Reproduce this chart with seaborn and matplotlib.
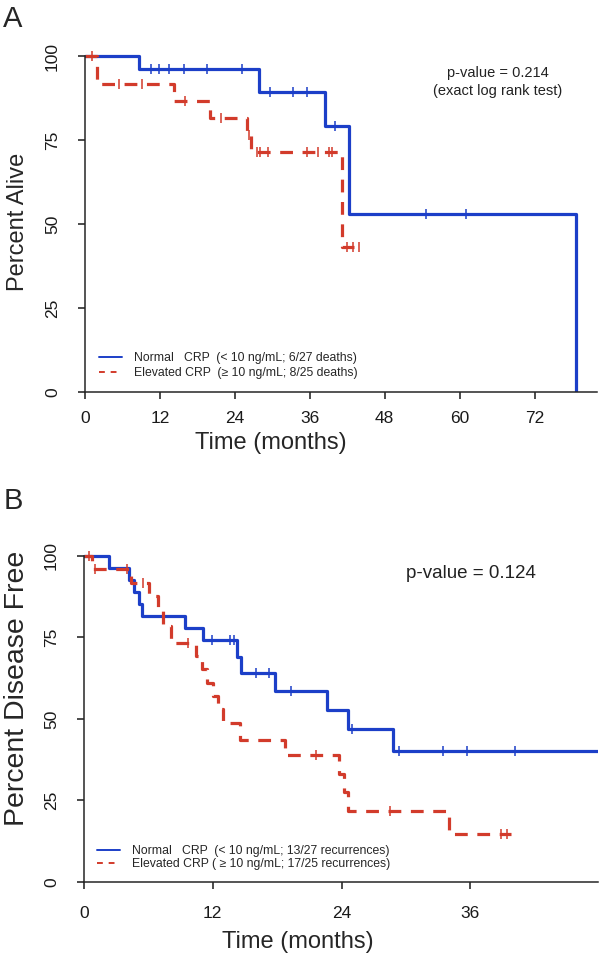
import numpy as np
import pandas as pd
import matplotlib
matplotlib.use("Agg")
import matplotlib.pyplot as plt
from matplotlib.lines import Line2D
import seaborn as sns

# ---------------- data ----------------
# Panel A: overall survival (Kaplan-Meier), months / percent alive
a_norm_time = [0, 8.7, 27.9, 38.4, 42.3, 78.6]
a_norm_surv = [100, 96.3, 89.2, 79.2, 53.0, 0]
a_norm_cens = [10.6, 11.9, 13.4, 15.9, 19.5, 25.2, 29.7, 33.3, 35.6, 40.1, 54.6, 61.0]

a_elev_time = [0, 1.9, 14.2, 20.0, 25.9, 26.6, 41.1, 44.6]
a_elev_surv = [100, 91.6, 86.7, 81.7, 76.5, 71.5, 43.2, 43.2]
a_elev_cens = [1.1, 5.5, 9.1, 16.0, 21.8, 26.2, 27.5, 28.1, 29.3, 35.5, 37.3,
               39.1, 39.5, 41.9, 42.9, 43.9]

# Panel B: disease-free survival
b_norm_time = [0, 2.3, 4.2, 4.7, 5.1, 5.4, 9.4, 11.1, 14.3, 14.6, 17.8, 22.6,
               24.6, 28.8, 47.9]
b_norm_surv = [100, 96.3, 92.6, 88.9, 85.2, 81.5, 77.8, 74.1, 69.0, 64.2, 58.6,
               52.8, 46.9, 40.2, 40.2]
b_norm_cens = [11.9, 13.6, 14.0, 16.0, 17.2, 19.3, 25.0, 29.4, 33.5, 35.7, 40.2]

b_elev_time = [0, 0.7, 4.4, 6.1, 6.9, 7.4, 8.1, 10.4, 11.0, 11.5, 12.0, 12.5,
               13.0, 14.5, 18.7, 23.8, 24.2, 24.6, 34.0, 39.8]
b_elev_surv = [100, 96.0, 91.8, 87.6, 83.4, 78.4, 73.4, 69.3, 65.2, 61.1, 57.0,
               52.9, 48.8, 43.6, 39.0, 33.2, 27.5, 21.8, 14.6, 14.6]
b_elev_cens = [0.5, 1.0, 4.0, 5.5, 9.7, 21.6, 28.5, 38.9, 39.4]

a_xticks = [0, 12, 24, 36, 48, 60, 72]
b_xticks = [0, 12, 24, 36]
yticks = [0, 25, 50, 75, 100]

a_labels = ["Normal   CRP  (< 10 ng/mL; 6/27 deaths)",
            "Elevated CRP  (\u2265 10 ng/mL; 8/25 deaths)"]
b_labels = ["Normal   CRP  (< 10 ng/mL; 13/27 recurrences)",
            "Elevated CRP ( \u2265 10 ng/mL; 17/25 recurrences)"]

BLUE = "#1c3fc8"
RED = "#d23b2b"

sns.set_style("ticks")
plt.rcParams["font.family"] = ["Liberation Sans", "DejaVu Sans"]
plt.rcParams["axes.linewidth"] = 1.1

fig = plt.figure(figsize=(6, 9.58), dpi=100)
W, H = 600, 958


def level_at(times, surv, t):
    idx = np.searchsorted(np.asarray(times), np.asarray(t), side="right") - 1
    return np.asarray(surv)[idx]


def km_panel(ax, ntime, nsurv, ncens, etime, esurv, ecens, xpad):
    sns.lineplot(x=ntime, y=nsurv, drawstyle="steps-post", color=BLUE, lw=2.3,
                 estimator=None, sort=False, ax=ax, legend=False)
    sns.lineplot(x=etime, y=esurv, drawstyle="steps-post", color=RED, lw=2.3,
                 linestyle=(0, (4, 3.0)), estimator=None, sort=False, ax=ax,
                 legend=False)
    sns.scatterplot(x=ncens, y=level_at(ntime, nsurv, ncens), marker="|", s=60,
                    linewidth=1.1, color=BLUE, ax=ax, legend=False, zorder=3)
    sns.scatterplot(x=ecens, y=level_at(etime, esurv, ecens), marker="|", s=60,
                    linewidth=1.1, color=RED, ax=ax, legend=False, zorder=3)
    sns.despine(ax=ax)
    ax.spines["left"].set_bounds(0, 100)
    ax.set_ylim(0, 103)
    ax.set_yticks(yticks)
    ax.set_yticklabels([str(v) for v in yticks], rotation=90, va="center")
    ax.tick_params(direction="out", length=5, width=1.1, labelsize=12.5,
                   colors="#1a1a1a")
    ax.tick_params(axis="x", pad=xpad)
    ax.tick_params(axis="y", pad=13)


# ---------- Panel A ----------
axA = fig.add_axes([85 / W, 1 - 392 / H, 512 / W, (392 - 46) / H])
km_panel(axA, a_norm_time, a_norm_surv, a_norm_cens,
         a_elev_time, a_elev_surv, a_elev_cens, xpad=9)
axA.set_xlim(0, 82)
axA.set_xticks(a_xticks)
axA.set_xlabel("Time (months)", fontsize=17)
axA.xaxis.set_label_coords((271 - 85) / 512, -(443 - 392) / 346)
axA.xaxis.label.set_va("center")
axA.set_ylabel("Percent Alive", fontsize=17)
axA.yaxis.set_label_coords((18 - 85) / 512, (392 - 222) / 346)
axA.yaxis.label.set_va("center")

hA = [Line2D([], [], color=BLUE, lw=1.4),
      Line2D([], [], color=RED, lw=1.4, linestyle=(0, (3, 3)))]
axA.legend(hA, a_labels, loc="upper left", frameon=False, fontsize=8.8,
           bbox_to_anchor=((99 - 85) / 512, (392 - 352) / 346),
           handlelength=1.9, handletextpad=0.95, labelspacing=0.25, borderpad=0,
           borderaxespad=0)

fig.text(498 / W, 1 - 73 / H, "p-value = 0.214", ha="center", va="center",
         fontsize=10.5, color="#222222")
fig.text(498 / W, 1 - 91 / H, "(exact log rank test)", ha="center", va="center",
         fontsize=10.5, color="#222222")
fig.text(13 / W, 1 - 19 / H, "A", ha="center", va="center", fontsize=21)

# ---------- Panel B ----------
axB = fig.add_axes([84 / W, 1 - 882 / H, 514 / W, (882 - 546) / H])
km_panel(axB, b_norm_time, b_norm_surv, b_norm_cens,
         b_elev_time, b_elev_surv, b_elev_cens, xpad=12)
axB.set_xlim(0, 47.9)
axB.set_xticks(b_xticks)
axB.set_xlabel("Time (months)", fontsize=17)
axB.xaxis.set_label_coords((298 - 84) / 514, -(942 - 882) / 336)
axB.xaxis.label.set_va("center")
axB.set_ylabel("Percent Disease Free", fontsize=20.5)
axB.yaxis.set_label_coords((17 - 84) / 514, (882 - 688) / 336)
axB.yaxis.label.set_va("center")

hB = [Line2D([], [], color=BLUE, lw=1.4),
      Line2D([], [], color=RED, lw=1.4, linestyle=(0, (3, 3)))]
axB.legend(hB, b_labels, loc="upper left", frameon=False, fontsize=8.8,
           bbox_to_anchor=((97 - 84) / 514, (882 - 845) / 336),
           handlelength=1.9, handletextpad=0.95, labelspacing=0.12, borderpad=0,
           borderaxespad=0)

fig.text(471 / W, 1 - 573 / H, "p-value = 0.124", ha="center", va="center",
         fontsize=13.5, color="#222222")
fig.text(13 / W, 1 - 501 / H, "B", ha="center", va="center", fontsize=21)

fig.savefig("out.png", dpi=100)
